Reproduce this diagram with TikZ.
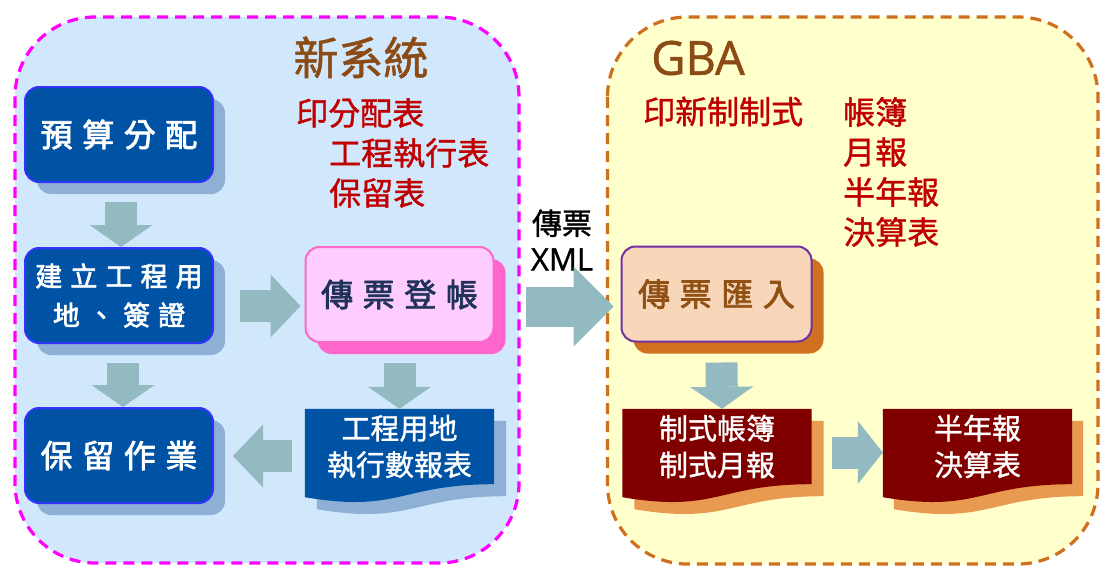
\documentclass[tikz,border=0pt]{standalone}
\usepackage{fontspec}
\setmainfont{Noto Sans CJK TC}[FakeBold=1.2]
\newfontfamily\kaifont{Noto Sans CJK TC}[LetterSpace=30,FakeBold=2.5]
\newfontfamily\latinfont{Open Sans}[FakeBold=1.2]
\usetikzlibrary{arrows.meta,calc,shadows,backgrounds}

\definecolor{newfill}{RGB}{209,232,252}
\definecolor{newdash}{RGB}{255,0,255}
\definecolor{gbafill}{RGB}{255,255,204}
\definecolor{gbadash}{RGB}{206,112,30}
\definecolor{boxblue}{RGB}{0,82,164}
\definecolor{boxline}{RGB}{51,51,255}
\definecolor{blueshade}{RGB}{142,176,212}
\definecolor{arrowgray}{RGB}{147,186,192}
\definecolor{pinkfill}{RGB}{255,204,255}
\definecolor{pinkline}{RGB}{255,102,204}
\definecolor{navytext}{RGB}{31,50,90}
\definecolor{peachfill}{RGB}{247,214,186}
\definecolor{purpleline}{RGB}{112,48,160}
\definecolor{orangeshade}{RGB}{208,112,32}
\definecolor{browntext}{RGB}{145,80,20}
\definecolor{titlebrown}{RGB}{140,75,20}
\definecolor{darkred}{RGB}{192,0,0}
\definecolor{maroon}{RGB}{128,0,0}
\definecolor{tanshade}{RGB}{232,154,80}

\begin{document}
\begin{tikzpicture}[x=1pt,y=-1pt,line join=round,
  system/.style={line width=3.2pt,dash pattern=on 11pt off 7pt,rounded corners=80pt},
  stepbox/.style={rounded corners=14pt,line width=2pt,minimum width=188pt,minimum height=95pt,inner sep=0pt,align=center},
  bluebox/.style={stepbox,fill=boxblue,draw=boxline,text=white,font=\kaifont\fontsize{32}{40}\selectfont,
    drop shadow={shadow xshift=12pt,shadow yshift=-12pt,fill=blueshade,opacity=1}},
  pinkbox/.style={stepbox,fill=pinkfill,draw=pinkline,text=navytext,font=\kaifont\fontsize{32}{40}\selectfont,
    drop shadow={shadow xshift=12pt,shadow yshift=-12pt,fill=pinkline,opacity=1}},
  peachbox/.style={stepbox,minimum width=190pt,fill=peachfill,draw=purpleline,text=browntext,font=\kaifont\fontsize{32}{40}\selectfont,
    drop shadow={shadow xshift=12pt,shadow yshift=-12pt,fill=orangeshade,opacity=1}},
  doctext/.style={minimum width=189pt,minimum height=75pt,inner sep=0pt,align=center,text=white,font=\fontsize{29}{36.5}\selectfont},
  fatarrow/.style={draw=arrowgray,line width=32pt,-{Triangle[length=#1,width=63pt,line width=0pt]}},
  fatarrow/.default=22pt,
  redtext/.style={text=darkred,inner sep=0pt,anchor=west,font=\fontsize{32}{40}\selectfont},
  title/.style={text=titlebrown,inner sep=0pt}]
% the two systems
\begin{scope}[on background layer]
\fill[white] (0,0) rectangle (1111,578);
\draw[system,fill=newfill,draw=newdash] (15,17) rectangle (519,563);
\draw[system,fill=gbafill,draw=gbadash] (607.5,17) rectangle (1098,564);
\end{scope}
\node[title,font=\fontsize{45}{50}\selectfont] (newtitle) at (361,57.5) {新系統};
\node[title,font=\latinfont\fontsize{47}{50}\selectfont] (gbatitle) at (698,58) {GBA};
\node[redtext] (printa) at (296,113) {印分配表};
\node[redtext] (printb) at (329,153) {工程執行表};
\node[redtext] (printc) at (329,193) {保留表};
\node[redtext] (printd) at (643,111.5) {印新制制式};
\node[redtext] (forma) at (843,112) {帳簿};
\node[redtext] (formb) at (843,152) {月報};
\node[redtext] (formc) at (843,192) {半年報};
\node[redtext] (formd) at (843,232) {決算表};
% steps
\node[bluebox] (budget) at (119,134.5) {預算分配};
\node[bluebox,font=\kaifont\fontsize{27}{39}\selectfont] (site) at (119,295.5) {建立工程用\\地、簽證};
\node[bluebox] (hold) at (119,455.5) {保留作業};
\node[pinkbox] (post) at (399.5,294.5) {傳票登帳};
\node[peachbox] (import) at (716.5,294) {傳票匯入};
\node[doctext] (rep) at (399.5,446.5) {工程用地\\執行數報表};
\node[doctext] (ledger) at (717,446.5) {制式帳簿\\制式月報};
\node[doctext] (annual) at (977.5,446.5) {半年報\\決算表};
\node[align=center,inner sep=0pt,font=\fontsize{30}{36}\selectfont] (xml) at (562,240) {傳票\\{\latinfont\fontsize{31}{36}\selectfont XML}};
% document shapes
\begin{scope}[on background layer]
\fill[blueshade] ($(rep.north west)+(12,12)$) -- ($(rep.north east)+(12,12)$) -- ($(rep.south east)+(12,12)$) .. controls ($(rep.south)+(12,12)$) and ($(rep.south)+(12,41)$) .. ($(rep.south west)+(12,25)$) -- cycle;
\fill[boxblue] (rep.north west) -- (rep.north east) -- (rep.south east) .. controls (rep.south) and ($(rep.south)+(0,29)$) .. ($(rep.south west)+(0,13)$) -- cycle;
\fill[tanshade] ($(ledger.north west)+(12,12)$) -- ($(ledger.north east)+(12,12)$) -- ($(ledger.south east)+(12,12)$) .. controls ($(ledger.south)+(12,12)$) and ($(ledger.south)+(12,41)$) .. ($(ledger.south west)+(12,25)$) -- cycle;
\fill[maroon] (ledger.north west) -- (ledger.north east) -- (ledger.south east) .. controls (ledger.south) and ($(ledger.south)+(0,29)$) .. ($(ledger.south west)+(0,13)$) -- cycle;
\fill[tanshade] ($(annual.north west)+(11,12)$) -- ($(annual.north east)+(11,12)$) -- ($(annual.south east)+(11,12)$) .. controls ($(annual.south)+(11,12)$) and ($(annual.south)+(11,41)$) .. ($(annual.south west)+(11,25)$) -- cycle;
\fill[maroon] (annual.north west) -- (annual.north east) -- (annual.south east) .. controls (annual.south) and ($(annual.south)+(0,29)$) .. ($(annual.south west)+(0,13)$) -- cycle;
\end{scope}
% block arrows
\draw[fatarrow] ($(budget.south)+(2,19)$) -- ($(site.north)+(2,0)$);
\draw[fatarrow] ($(site.south)+(4,19)$) -- ($(hold.north)+(4,0)$);
\draw[fatarrow=30pt] ($(site.east)+(26,10.5)$) -- ($(post.west)+(-4,11.5)$);
\draw[fatarrow] ($(post.south)+(0,20)$) -- (rep.north);
\draw[fatarrow=30pt] ($(rep.west)+(-13,9.5)$) -- ($(hold.east)+(19,0.5)$);
\draw[draw=arrowgray,line width=40pt,-{Triangle[length=40pt,width=80pt,line width=0pt]}] ($(post.east)+(31,12)$) -- ($(import.west)+(-7,12.5)$);
\draw[fatarrow] ($(import.south)+(5,20)$) -- ($(ledger.north)+(5,0)$);
\draw[fatarrow=25pt] ($(ledger.east)+(20,6)$) -- ($(annual.west)+(0,6)$);
\end{tikzpicture}
\end{document}
